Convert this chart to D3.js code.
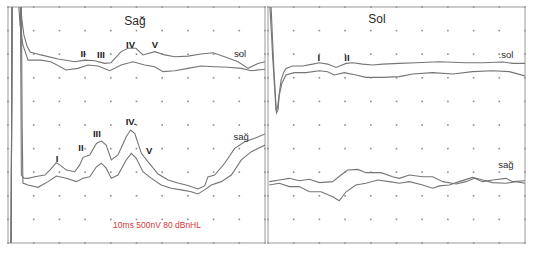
<!DOCTYPE html>
<html>
<head>
<meta charset="utf-8">
<script src="https://cdn.jsdelivr.net/npm/d3@7"></script>
<style>
  body { margin: 0; background: #fff; }
  svg { display: block; font-family: "Liberation Sans", Arial, sans-serif; }
</style>
</head>
<body>
<svg width="538" height="261"></svg>
<script>
// time in ms (0-10), amplitude as grid division measured from the top (0-10)
var sagSolA = [[0.12,10.6],[0.16,-0.5],[0.47,-0.5],[0.54,0.55],[0.62,1.19],[0.74,1.65],[0.86,1.91],[1.28,2.03],[1.95,2.2],[2.6,2.32],[2.98,2.25],[3.37,2.28],[3.76,2.39],[4.01,2.36],[4.4,1.89],[4.67,1.75],[4.98,1.75],[5.25,2.03],[5.71,1.89],[6.1,2.03],[6.49,2.11],[7.0,2.08],[7.51,1.99],[7.98,1.94],[8.43,2.11],[8.95,2.32],[9.34,2.6],[9.73,2.39],[10,2.32]];
var sagSolB = [[0.12,10.6],[0.16,-0.5],[0.39,-0.5],[0.47,0.76],[0.58,1.61],[0.78,2.25],[1.28,2.25],[1.67,2.32],[2.26,2.67],[2.72,2.6],[3.11,2.46],[3.5,2.5],[3.96,2.7],[4.4,2.46],[4.86,2.32],[5.32,2.46],[5.71,2.53],[6.03,2.74],[6.49,2.7],[7.0,2.6],[7.51,2.5],[8.04,2.53],[8.56,2.55],[9.08,2.6],[9.46,2.7],[10,2.64]];
var sagSagA = [[0.12,10.6],[0.16,-0.5],[0.48,-0.5],[0.5,3],[0.52,7.12],[0.62,7.25],[0.78,7.26],[1.04,7.19],[1.43,7.12],[1.63,6.91],[1.88,6.6],[2.02,6.69],[2.27,6.91],[2.6,6.98],[2.79,6.69],[2.92,6.37],[3.18,6.27],[3.44,5.78],[3.63,5.67],[3.82,5.85],[4.02,6.48],[4.28,6.27],[4.6,5.5],[4.77,5.21],[4.93,5.35],[5.19,6.2],[5.45,6.56],[5.84,7.08],[6.23,7.33],[6.61,7.46],[7.0,7.56],[7.39,7.71],[7.65,7.58],[7.78,7.2],[8.04,7.12],[8.43,6.62],[8.82,5.99],[9.21,5.71],[9.6,5.56],[10,5.38]];
var sagSagB = [[0.12,10.6],[0.16,-0.5],[0.52,-0.5],[0.55,5],[0.58,7.46],[0.78,7.54],[1.17,7.64],[1.56,7.4],[1.88,7.16],[2.27,7.26],[2.66,7.4],[2.92,7.26],[3.18,7.19],[3.44,6.77],[3.63,6.62],[3.82,6.83],[4.02,7.26],[4.28,7.12],[4.6,6.48],[4.8,6.2],[4.99,6.41],[5.25,6.98],[5.58,7.26],[5.96,7.54],[6.35,7.68],[6.74,7.75],[7.13,7.83],[7.39,7.92],[7.65,7.75],[7.91,7.54],[8.3,7.4],[8.69,7.12],[9.08,6.48],[9.47,6.13],[10,5.85]];

var solSolA = [[0.05,-0.5],[0.19,2.25],[0.31,4.36],[0.37,4.28],[0.43,3.73],[0.51,3.09],[0.62,2.75],[0.7,2.6],[0.96,2.5],[1.35,2.5],[1.74,2.42],[2.0,2.36],[2.32,2.42],[2.65,2.56],[3.04,2.39],[3.3,2.36],[3.68,2.42],[4.07,2.46],[4.46,2.42],[5.11,2.39],[5.76,2.36],[6.67,2.32],[7.7,2.36],[8.35,2.36],[9.13,2.33],[9.52,2.39],[10,2.39]];
var solSolB = [[0.1,-0.5],[0.23,2.67],[0.33,4.49],[0.39,4.36],[0.44,3.73],[0.54,3.23],[0.7,2.88],[1.02,2.78],[1.48,2.78],[2.0,2.7],[2.32,2.74],[2.58,2.88],[2.97,2.78],[3.42,2.88],[3.81,2.98],[4.46,2.98],[5.11,2.95],[5.63,2.84],[6.41,2.78],[7.19,2.84],[7.96,2.74],[8.74,2.7],[9.39,2.74],[10,2.92]];
var solSagA = [[0.05,7.4],[0.44,7.33],[0.83,7.26],[1.22,7.36],[1.61,7.3],[2.0,7.44],[2.52,7.4],[2.84,7.12],[3.1,6.91],[3.49,6.88],[3.81,7.02],[4.4,7.02],[4.85,7.19],[5.11,7.26],[5.5,7.12],[6.02,7.19],[6.41,7.19],[6.8,7.4],[7.32,7.5],[7.7,7.4],[8.03,7.26],[8.35,7.4],[8.74,7.33],[9.26,7.26],[9.52,7.4],[10,7.36]];
var solSagB = [[0.05,7.54],[0.44,7.47],[0.83,7.61],[1.22,7.61],[1.61,7.83],[2.06,7.83],[2.52,8.04],[2.77,8.21],[3.04,7.83],[3.42,7.54],[3.81,7.47],[4.27,7.33],[4.72,7.4],[5.11,7.47],[5.5,7.4],[6.02,7.54],[6.41,7.68],[6.67,7.58],[7.05,7.54],[7.44,7.4],[7.96,7.22],[8.35,7.33],[8.74,7.44],[9.26,7.47],[9.65,7.4],[10,7.47]];

var panelTitles = ["Sağ", "Sol"];
var sagPeakLabels = [["II",2.92,1.99],["III",3.62,2.03],["IV",4.77,1.61],["V",5.72,1.61],["I",1.91,6.4],["II",2.84,5.97],["III",3.46,5.38],["IV.",4.79,4.87],["V",5.49,6.1]];
var solPeakLabels = [["I",1.98,2.16],["II",3.07,2.16]];
var sagSideLabels = [["sol",9.03,1.99],["sağ",9.07,5.47]];
var solSideLabels = [[".sol",9.26,2.03],["sağ",9.26,6.69]];
var caption = "10ms 500nV 80 dBnHL";

var svg = d3.select("svg");
var plotTop = 7, plotBottom = 243;
var panels = [
  {x0: 8, x1: 265, title: panelTitles[0], traces: [sagSolA, sagSolB, sagSagA, sagSagB], peaks: sagPeakLabels, sides: sagSideLabels, titlePos: [4.94, 0.6]},
  {x0: 268, x1: 525, title: panelTitles[1], traces: [solSolA, solSolB, solSagA, solSagB], peaks: solPeakLabels, sides: solSideLabels, titlePos: [4.24, 0.52]}
];

var yScale = d3.scaleLinear().domain([0, 10]).range([plotTop, plotBottom]);
var steps = d3.range(0, 11);

panels.forEach(function(p, i) {
  var x = d3.scaleLinear().domain([0, 10]).range([p.x0, p.x1]);
  var g = svg.append("g");

  g.append("clipPath").attr("id", "clip" + i)
    .append("rect").attr("x", p.x0).attr("y", plotTop)
    .attr("width", p.x1 - p.x0).attr("height", plotBottom - plotTop);

  // dotted grid
  steps.forEach(function(c) {
    g.selectAll(null).data(steps).enter().append("rect")
      .attr("x", x(c) - 0.8).attr("y", d => yScale(d) - 0.8)
      .attr("width", 1.6).attr("height", 1.6)
      .attr("fill", "#8c8c8c");
  });

  g.append("rect")
    .attr("x", p.x0).attr("y", plotTop)
    .attr("width", p.x1 - p.x0).attr("height", plotBottom - plotTop)
    .attr("fill", "none").attr("stroke", "#9a9a9a").attr("stroke-width", 1);

  var line = d3.line().x(d => x(d[0])).y(d => yScale(d[1]));
  g.append("g").attr("clip-path", "url(#clip" + i + ")")
    .selectAll("path").data(p.traces).enter().append("path")
    .attr("d", line)
    .attr("fill", "none").attr("stroke", "#757575").attr("stroke-width", 1.1);

  g.append("text")
    .attr("x", x(p.titlePos[0])).attr("y", yScale(p.titlePos[1]))
    .attr("text-anchor", "middle").attr("dominant-baseline", "central")
    .attr("font-size", 12).attr("fill", "#2a2a2a")
    .text(p.title);

  g.selectAll(null).data(p.peaks).enter().append("text")
    .attr("x", d => x(d[1])).attr("y", d => yScale(d[2]))
    .attr("text-anchor", "middle").attr("dominant-baseline", "central")
    .attr("font-size", 9.5).attr("font-weight", "bold").attr("fill", "#222")
    .text(d => d[0]);

  g.selectAll(null).data(p.sides).enter().append("text")
    .attr("x", d => x(d[1])).attr("y", d => yScale(d[2]))
    .attr("text-anchor", "middle").attr("dominant-baseline", "central")
    .attr("font-size", 9.5).attr("fill", "#2a2a2a")
    .text(d => d[0]);

  if (i === 0) {
    g.append("text")
      .attr("x", x(5.8)).attr("y", yScale(9.24))
      .attr("text-anchor", "middle").attr("dominant-baseline", "central")
      .attr("font-size", 8.5).attr("fill", "#d8383a")
      .text(caption);
  }
});
</script>
</body>
</html>
